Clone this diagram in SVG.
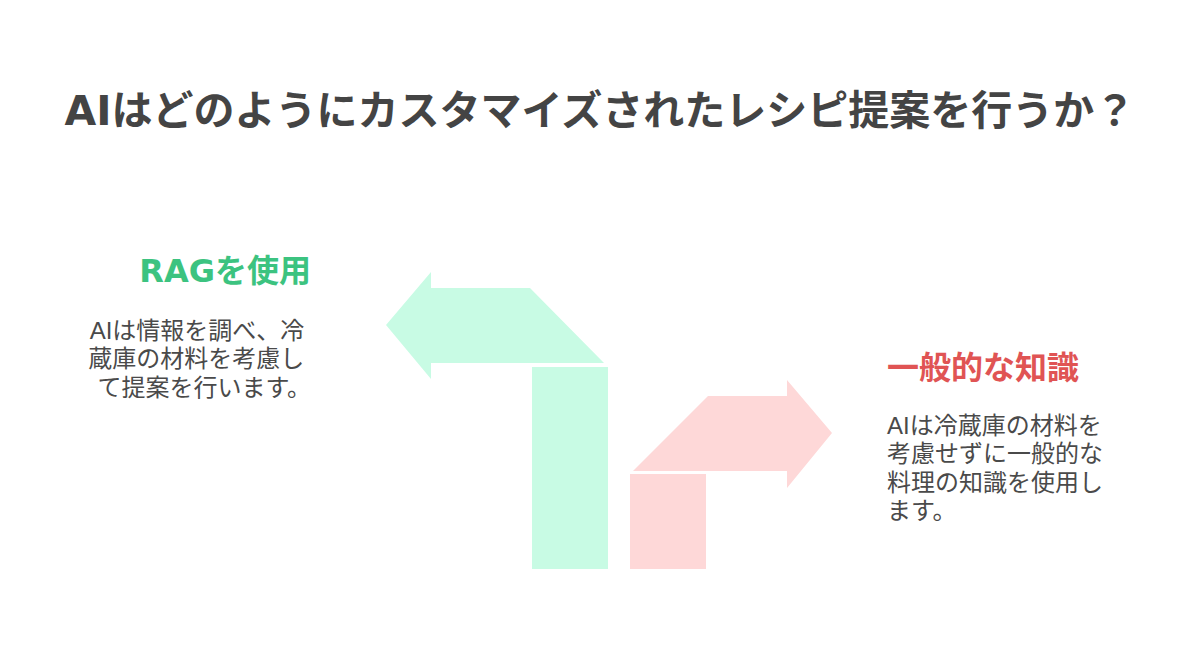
<svg xmlns="http://www.w3.org/2000/svg" width="1200" height="669" viewBox="0 0 1200 669">
<style>
.title{font-family:"DejaVu Sans","Noto Sans CJK JP",sans-serif;font-weight:700;font-size:41px;fill:#444444}
.head{font-family:"DejaVu Sans","Noto Sans CJK JP",sans-serif;font-weight:700;font-size:32px}
.body{font-family:"Liberation Sans","Noto Sans CJK JP",sans-serif;font-size:24px;fill:#4a4a4a}
.green{fill:#c8fbe4}
.pink{fill:#fed8d8}
</style>
<rect width="1200" height="669" fill="#ffffff"/>
<text class="title" x="600" y="125" text-anchor="middle">AIはどのようにカスタマイズされたレシピ提案を行うか？</text>
<g id="connectors">
  <g id="arrow-rag">
    <polygon class="green" points="386,325 431,272 431,288 530,288 604,363 431,363 431,379"/>
    <rect class="green" x="532" y="367" width="76" height="202"/>
  </g>
  <g id="arrow-general">
    <polygon class="pink" points="832,433 787,380 787,396 708,396 633,471 787,471 787,488"/>
    <rect class="pink" x="630" y="474" width="76" height="95"/>
  </g>
</g>
<g id="node-rag">
  <text class="head" x="311" y="282" text-anchor="end" fill="#3cc380">RAGを使用</text>
  <text class="body" text-anchor="end">
    <tspan x="311" y="339">AIは情報を調べ、冷</tspan>
    <tspan x="311" y="367">蔵庫の材料を考慮し</tspan>
    <tspan x="311" y="396">て提案を行います。</tspan>
  </text>
</g>
<g id="node-general">
  <text class="head" x="887" y="379" fill="#e05454">一般的な知識</text>
  <text class="body">
    <tspan x="887" y="434">AIは冷蔵庫の材料を</tspan>
    <tspan x="887" y="462">考慮せずに一般的な</tspan>
    <tspan x="887" y="491">料理の知識を使用し</tspan>
    <tspan x="887" y="519">ます。</tspan>
  </text>
</g>
</svg>
